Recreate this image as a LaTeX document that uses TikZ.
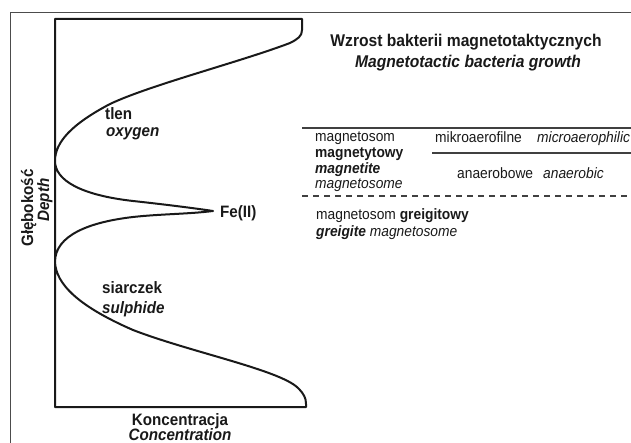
\documentclass[tikz,border=0pt]{standalone}
\usepackage{fontspec}
\setmainfont[FakeStretch=0.92]{Liberation Sans}
\begin{document}
\begin{tikzpicture}[x=1pt,y=-1pt,
  frame/.style={draw=black!70,line width=0.9pt},
  chart/.style={draw=black!90,line width=2pt,line join=round},
  rule/.style={draw=black!75,line width=1.2pt},
  lbl/.style={inner sep=0pt,font=\fontsize{16.5}{18}\selectfont\bfseries,text=black!90},
  ttl/.style={inner sep=0pt,font=\fontsize{17}{19}\selectfont\bfseries,text=black!90},
  txt/.style={inner sep=0pt,font=\fontsize{15}{17}\selectfont,text=black!90}]
\useasboundingbox (0,0) rectangle (631,443);
% outer frame
\draw[frame] (10,443) -- (10,12) -- (631,12);
% chart
\draw[chart] (55,407) -- (55,19) -- (302,19) -- (302,30)
  .. controls (302,36) and (298,39) .. (290,43)
  .. controls (240,62) and (150,85) .. (110,104)
  .. controls (72,124) and (55,142) .. (55,161)
  .. controls (55,180) and (80,195) .. (133,201)
  .. controls (170,205) and (200,209) .. (213,211)
  .. controls (190,214) and (160,214) .. (133,217)
  .. controls (90,222) and (55,235) .. (55,262)
  .. controls (56,284) and (78,306) .. (133,330)
  .. controls (190,352) and (280,370) .. (298,388)
  .. controls (304,394) and (306,398) .. (306,404)
  -- (306,407) -- cycle;
% curve labels
\node[lbl,anchor=base west] (tlen) at (105,120) {tlen};
\node[lbl,anchor=base west] (oxy) at (106,137) {\itshape oxygen};
\node[lbl,anchor=base west] (fe) at (220,218) {Fe(II)};
\node[lbl,anchor=base west] (siar) at (102,294) {siarczek};
\node[lbl,anchor=base west] (sulf) at (102,313) {\itshape sulphide};
% axis labels
\node[lbl,anchor=base] (konc) at (180,425) {Koncentracja};
\node[lbl,anchor=base] (conc) at (180,440.5) {\itshape Concentration};
\node[lbl,anchor=base,rotate=90] (glab) at (33,208) {Głębokość};
\node[lbl,anchor=base,rotate=90] (dep) at (49,200) {\itshape Depth};
% title
\node[ttl,anchor=base] (t1) at (466,47) {Wzrost bakterii magnetotaktycznych};
\node[ttl,anchor=base] (t2) at (468,68) {\itshape Magnetotactic bacteria growth};
% rules
\draw[rule] (302,128) -- (631,128);
\draw[rule] (432,153) -- (631,153);
\draw[rule,dash pattern=on 6pt off 5pt] (302,196) -- (631,196);
% table text
\node[txt,anchor=base west] (m1) at (315,142) {magnetosom};
\node[txt,anchor=base west] (m2) at (315,158) {\bfseries magnetytowy};
\node[txt,anchor=base west] (m3) at (315,174) {\bfseries\itshape magnetite};
\node[txt,anchor=base west] (m4) at (315,189) {\itshape magnetosome};
\node[txt,anchor=base west] (mik) at (435,143) {mikroaerofilne};
\node[txt,anchor=base west] (mic) at (537,143) {\itshape microaerophilic};
\node[txt,anchor=base west] (ana) at (457,179) {anaerobowe};
\node[txt,anchor=base west] (anb) at (543,179) {\itshape anaerobic};
\node[txt,anchor=base west] (g1) at (316,220) {magnetosom \bfseries greigitowy};
\node[txt,anchor=base west] (g2) at (316,237) {{\bfseries\itshape greigite} \itshape magnetosome};
\end{tikzpicture}
\end{document}
